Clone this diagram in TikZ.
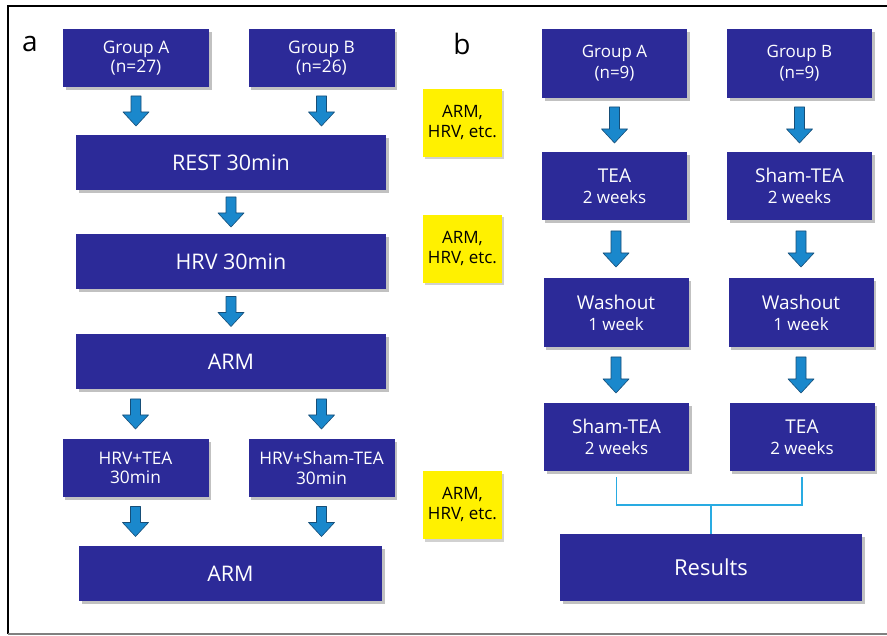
\documentclass[tikz,border=0pt]{standalone}
\usepackage{fontspec}
\setmainfont{Open Sans}
\usetikzlibrary{calc,shadows}

\definecolor{boxblue}{RGB}{44,42,152}
\definecolor{arrowblue}{RGB}{26,136,204}
\definecolor{arrowedge}{RGB}{22,78,120}
\definecolor{notes}{RGB}{255,241,0}
\definecolor{linkblue}{RGB}{41,171,226}

\tikzset{
  stage/.style={rectangle, fill=boxblue, text=white, align=center, inner sep=0pt,
    drop shadow={shadow xshift=2.5pt, shadow yshift=-3pt, opacity=0.35, fill=black!70}},
  small/.style={stage, minimum width=146pt, minimum height=58pt, font=\fontsize{17.3}{19.5}\selectfont},
  wide/.style={stage, minimum width=310pt, minimum height=55pt, font=\fontsize{21.5}{24}\selectfont},
  cell/.style={stage, minimum width=145pt, minimum height=68pt, font=\fontsize{17}{21}\selectfont},
  note/.style={rectangle, fill=notes, align=center, inner sep=0pt, minimum width=79pt,
    minimum height=68pt, font=\fontsize{17}{20}\selectfont,
    drop shadow={shadow xshift=2pt, shadow yshift=-2.5pt, opacity=0.3, fill=black!60}},
  panel/.style={font=\fontsize{28}{28}\selectfont},
  fat/.style={fill=arrowblue, draw=arrowedge, line width=0.6pt, line join=round,
    to path={let \p1=(\tikztostart), \p2=(\tikztotarget), \n1={0.5*(\y1+\y2)}, \n2={#1*0.5pt} in
      (\x1-5pt,\n1+\n2) -- (\x1+5pt,\n1+\n2) -- (\x1+5pt,\n1-\n2+14pt) -- (\x1+13pt,\n1-\n2+14pt)
      -- (\x1,\n1-\n2) -- (\x1-13pt,\n1-\n2+14pt) -- (\x1-5pt,\n1-\n2+14pt) -- cycle}},
  fat/.default=30,
  link/.style={draw=linkblue, line width=1.6pt},
}

\begin{document}
\begin{tikzpicture}[x=1pt,y=-1pt]
    \useasboundingbox (0,0) rectangle (887,636);

    % Frame
    \draw[line width=1.2pt] (887,6) -- (8,6) -- (8,634);
    \draw[gray, line width=1.2pt] (8,634) -- (887,634);

    % Panel a
    \node[panel] (la) at (30,44) {a};
    \node[small] (ga) at (136,58) {Group A\\(n=27)};
    \node[small] (gb) at (321.5,58) {Group B\\(n=26)};
    \node[wide] (rest) at (231,162.5) {REST 30min};
    \node[wide] (hrv) at (231,261.5) {HRV 30min};
    \node[wide] (arm1) at (231,361.5) {ARM};
    \node[small] (ht) at (135.5,468) {HRV+TEA\\30min};
    \node[small] (hs) at (321.5,468) {HRV+Sham-TEA\\30min};
    \node[wide, minimum width=303pt] (arm2) at (230.5,573.5) {ARM};

    % Measurements
    \node[note] (m1) at (462.5,123) {ARM,\\HRV, etc.};
    \node[note] (m2) at (462.5,249) {ARM,\\HRV, etc.};
    \node[note] (m3) at (462.5,505) {ARM,\\HRV, etc.};

    % Arrows a
    \draw[fat] (ga.south) to (rest.north -| ga);
    \draw[fat] (gb.south) to (rest.north -| gb);
    \draw[fat] (rest.south) to (hrv.north);
    \draw[fat] (hrv.south) to (arm1.north);
    \draw[fat] (arm1.south -| ht) to (ht.north);
    \draw[fat] (arm1.south -| hs) to (hs.north);
    \draw[fat] (ht.south) to (arm2.north -| ht);
    \draw[fat] (hs.south) to (arm2.north -| hs);

    % Panel b
    \node[panel] (lb) at (462,44) {b};
    \node[cell, minimum height=69pt] (bga) at (614.5,63.5) {Group A\\(n=9)};
    \node[cell, minimum height=69pt] (bgb) at (799.5,63.5) {Group B\\(n=9)};
    \node[cell] (btea) at (614.5,186) {{\fontsize{19}{21}\selectfont TEA}\\2 weeks};
    \node[cell] (bsham) at (799.5,186) {{\fontsize{19}{21}\selectfont Sham-TEA}\\2 weeks};
    \node[cell, minimum height=69pt] (bwa) at (616,312.5) {{\fontsize{19}{21}\selectfont Washout}\\1 week};
    \node[cell, minimum height=69pt] (bwb) at (801,312.5) {{\fontsize{19}{21}\selectfont Washout}\\1 week};
    \node[cell] (bsh2) at (616.5,437) {{\fontsize{19}{21}\selectfont Sham-TEA}\\2 weeks};
    \node[cell] (btea2) at (802,437) {{\fontsize{19}{21}\selectfont TEA}\\2 weeks};
    \node[cell, minimum width=302pt, minimum height=67pt, font=\fontsize{22}{25}\selectfont] (res) at (711,567.5) {Results};

    % Arrows b
    \draw[fat=36] (bga.south) to (btea.north);
    \draw[fat=36] (bgb.south) to (bsham.north);
    \draw[fat=36] (btea.south -| bwa) to (bwa.north);
    \draw[fat=36] (bsham.south -| bwb) to (bwb.north);
    \draw[fat=36] (bwa.south) to (bsh2.north -| bwa);
    \draw[fat=36] (bwb.south) to (btea2.north -| bwb);

    % Bracket
    \coordinate (joint) at (711,505);
    \draw[link] ([yshift=-6pt]bsh2.south) |- (joint) -| ([yshift=-6pt]btea2.south);
    \draw[link] (joint) -- (res.north);

\end{tikzpicture}
\end{document}
